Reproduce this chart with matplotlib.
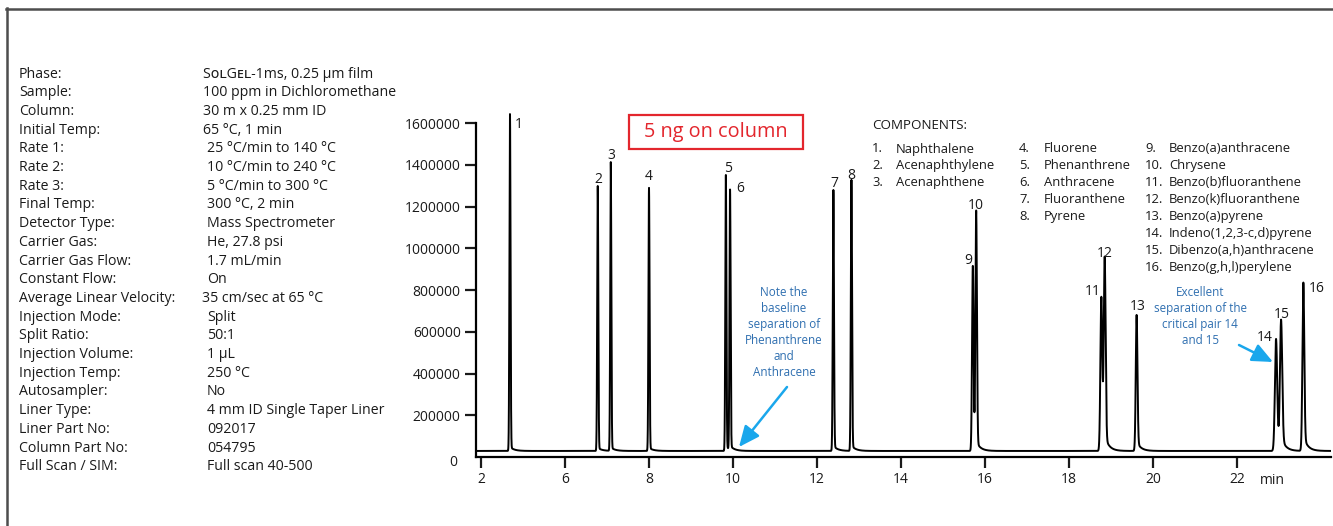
import numpy as np
import matplotlib
matplotlib.use("Agg")
import matplotlib.pyplot as plt
from matplotlib.lines import Line2D
from matplotlib.patches import Rectangle, FancyArrowPatch

plt.rcParams['font.family'] = ['Open Sans', 'DejaVu Sans']

W, H = 1333, 526

# method conditions (left panel)
cond_labels = ["Phase:", "Sample:", "Column:", "Initial Temp:", "Rate 1:", "Rate 2:", "Rate 3:",
               "Final Temp:", "Detector Type:", "Carrier Gas:", "Carrier Gas Flow:", "Constant Flow:",
               "Average Linear Velocity:", "Injection Mode:", "Split Ratio:", "Injection Volume:",
               "Injection Temp:", "Autosampler:", "Liner Type:", "Liner Part No:", "Column Part No:",
               "Full Scan / SIM:"]
cond_values = ["S\u1d0f\u029fG\u1d07\u029f-1ms, 0.25 \u00b5m film", "100 ppm in Dichloromethane",
               "30 m x 0.25 mm ID", "65 \u00b0C, 1 min", "25 \u00b0C/min to 140 \u00b0C",
               "10 \u00b0C/min to 240 \u00b0C", "5 \u00b0C/min to 300 \u00b0C", "300 \u00b0C, 2 min",
               "Mass Spectrometer", "He, 27.8 psi", "1.7 mL/min", "On", "35 cm/sec at 65 \u00b0C",
               "Split", "50:1", "1 \u00b5L", "250 \u00b0C", "No", "4 mm ID Single Taper Liner",
               "092017", "054795", "Full scan 40-500"]

# peaks: retention time (min), apex intensity, width (sigma, min), tail fraction
peak_ids = [str(i) for i in range(1, 17)]
peak_time = [4.69, 6.78, 7.09, 8.00, 9.83, 9.93, 12.39, 12.82, 15.71, 15.79,
             18.77, 18.85, 19.61, 22.93, 23.05, 23.58]
peak_height = [1644000, 1299000, 1413000, 1290000, 1352000, 1275000, 1280000, 1328000,
               916000, 1170000, 767000, 940000, 681000, 566000, 644000, 836000]
peak_sigma = [0.013, 0.013, 0.013, 0.013, 0.013, 0.013, 0.014, 0.014, 0.018, 0.018,
              0.022, 0.022, 0.02, 0.027, 0.027, 0.022]
peak_tail = [0.012, 0.012, 0.012, 0.012, 0.015, 0.015, 0.02, 0.02, 0.03, 0.03,
             0.06, 0.06, 0.07, 0.09, 0.09, 0.09]
baseline = 29000

x_ticks = [4, 6, 8, 10, 12, 14, 16, 18, 20, 22]
x_ticklabels = ["2", "6", "8", "10", "12", "14", "16", "18", "20", "22"]
y_ticks = [200000, 400000, 600000, 800000, 1000000, 1200000, 1400000, 1600000]

comp_cols = [
    [("1.", "Naphthalene"), ("2.", "Acenaphthylene"), ("3.", "Acenaphthene")],
    [("4.", "Fluorene"), ("5.", "Phenanthrene"), ("6.", "Anthracene"), ("7.", "Fluoranthene"), ("8.", "Pyrene")],
    [("9.", "Benzo(a)anthracene"), ("10.", "Chrysene"), ("11.", "Benzo(b)fluoranthene"),
     ("12.", "Benzo(k)fluoranthene"), ("13.", "Benzo(a)pyrene"), ("14.", "Indeno(1,2,3-c,d)pyrene"),
     ("15.", "Dibenzo(a,h)anthracene"), ("16.", "Benzo(g,h,l)perylene")],
]

# label offsets in pixels (dx, dy) from peak apex
label_off = [(9, -10), (1, 7), (1, 7), (0, 11), (2, 6), (10, 3), (1, 6), (0, 4),
             (-5, 5), (0, 7), (-9, 5), (0, 7), (1, 8), (-11, 1), (1, 8), (13, -6)]

TXT = "#1a1a1a"
BLUE = "#2f6fb0"
CYAN = "#1aa7ec"
RED = "#e3262d"


def fx(x):
    return x / W


def fy(y):
    return 1 - y / H


fig = plt.figure(figsize=(W / 100, H / 100), dpi=100)

# outer frame (top and left edges)
fig.add_artist(Line2D([fx(6), fx(1333)], [fy(8.5), fy(8.5)], color="#4d4d4d", lw=1.8))
fig.add_artist(Line2D([fx(6.5), fx(6.5)], [fy(8), fy(526)], color="#4d4d4d", lw=1.8))

# left panel
for i, (lab, val) in enumerate(zip(cond_labels, cond_values)):
    y = 74 + i * 18.7
    fig.text(fx(19), fy(y), lab, fontsize=10.2, color=TXT, va="center", ha="left")
    vx = 203 if i < 4 else (202 if i == 12 else 207)
    fig.text(fx(vx), fy(y), val, fontsize=10.2, color=TXT, va="center", ha="left")

# chromatogram
x0 = 4 - 5 / 42
x1 = 4 + (1331 - 481) / 42
ymax = 1660000
ax = fig.add_axes([fx(476), 69 / H, fx(1331) - fx(476), (457 - 110.7) / H])

t = np.linspace(x0, x1, 30000)
trace = np.full_like(t, baseline, dtype=float)
for t0, h, s, f in zip(peak_time, peak_height, peak_sigma, peak_tail):
    amp = h - baseline
    g = np.exp(-0.5 * ((t - t0) / s) ** 2)
    tail = np.exp(-np.clip(t - t0, 0, None) / 0.1)
    trace += np.where(t < t0, amp * g, amp * ((1 - f) * g + f * tail))
ax.plot(t, trace, color="black", lw=1.4)

ax.set_xlim(x0, x1)
ax.set_ylim(0, ymax)
for s in ["top", "right"]:
    ax.spines[s].set_visible(False)
for s in ["left", "bottom"]:
    ax.spines[s].set_linewidth(1.6)
ax.spines["left"].set_bounds(0, 1600000)
ax.set_xticks(x_ticks)
ax.set_xticklabels(x_ticklabels)
ax.set_yticks(y_ticks)
ax.set_yticklabels([str(v) for v in y_ticks])
ax.tick_params(axis="both", direction="out", length=8, width=1.6, labelsize=10, colors=TXT, pad=3)
ax.annotate("0", xy=(x0, 0), xytext=(-23, -5), textcoords="offset pixels",
            ha="center", va="center", fontsize=10, color=TXT)
ax.annotate("min", xy=(22, 0), xytext=(35, -23), textcoords="offset pixels",
            ha="center", va="center", fontsize=10, color=TXT)

for pid, t0, h, (dx, dy) in zip(peak_ids, peak_time, peak_height, label_off):
    ax.annotate(pid, xy=(t0, h), xytext=(dx, dy), textcoords="offset pixels",
                ha="center", va="center", fontsize=10, color=TXT)

# red box
fig.add_artist(Rectangle((fx(629), fy(149)), fx(803) - fx(629), (149 - 115) / H,
                         fill=False, edgecolor=RED, lw=1.6))
fig.text(fx(716), fy(132), "5 ng on column", fontsize=14.3, color=RED, ha="center", va="center")

# components legend
fig.text(fx(872), fy(126), "COMPONENTS:", fontsize=9.6, color=TXT, va="center")
col_x = [(872, 896), (1019, 1044), (1145, 1169)]
for (nx, mx), col in zip(col_x, comp_cols):
    for j, (num, name) in enumerate(col):
        y = 149 + j * 16.9
        fig.text(fx(nx), fy(y), num, fontsize=9.4, color=TXT, va="center")
        fig.text(fx(mx), fy(y), name, fontsize=9.4, color=TXT, va="center")

# blue notes
note1 = ["Note the", "baseline", "separation of", "Phenanthrene", "and", "Anthracene"]
for j, line in enumerate(note1):
    fig.text(fx(784), fy(293 + j * 15.9), line, fontsize=8.4, color=BLUE, ha="center", va="center")
note2 = ["Excellent", "separation of the", "critical pair 14", "and 15"]
for j, line in enumerate(note2):
    fig.text(fx(1200), fy(293 + j * 15.9), line, fontsize=8.4, color=BLUE, ha="center", va="center")

arrow = dict(arrowstyle="-|>,head_length=0.9,head_width=0.4", mutation_scale=14, color=CYAN, lw=1.8,
             shrinkA=0, shrinkB=0, transform=fig.transFigure)
fig.add_artist(FancyArrowPatch((fx(787), fy(387)), (fx(739), fy(447)), **arrow))
fig.add_artist(FancyArrowPatch((fx(1239), fy(345)), (fx(1273), fy(362)), **arrow))

fig.savefig("out.png", dpi=100)
